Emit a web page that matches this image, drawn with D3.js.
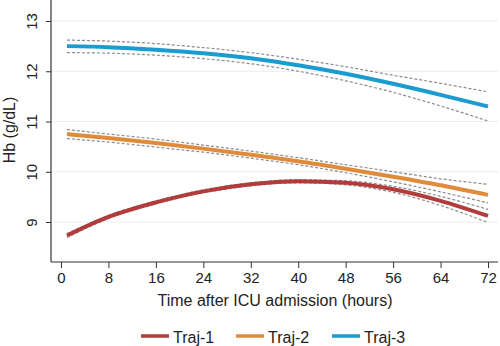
<!DOCTYPE html>
<html>
<head>
<meta charset="utf-8">
<script src="https://cdn.jsdelivr.net/npm/d3@7"></script>
<style>
  body { margin: 0; background: #fff; }
  text { font-family: "Liberation Sans", Arial, sans-serif; fill: #222; }
</style>
</head>
<body>
<script>
const WIDTH = 500;
const HEIGHT = 346;

// hours at which values were read
var hours = [1, 8, 16, 24, 32, 40, 48, 56, 64, 72];

var traj1 = [8.73, 9.10, 9.39, 9.61, 9.75, 9.81, 9.78, 9.65, 9.42, 9.12];
var traj1Hi = [8.77, 9.13, 9.42, 9.64, 9.78, 9.84, 9.82, 9.71, 9.51, 9.25];
var traj1Lo = [8.69, 9.07, 9.36, 9.58, 9.72, 9.78, 9.74, 9.59, 9.33, 8.99];

var traj2 = [10.75, 10.67, 10.57, 10.46, 10.34, 10.21, 10.06, 9.90, 9.73, 9.54];
var traj2Hi = [10.84, 10.75, 10.65, 10.53, 10.41, 10.28, 10.14, 10.00, 9.86, 9.75];
var traj2Lo = [10.66, 10.59, 10.49, 10.39, 10.27, 10.14, 9.98, 9.80, 9.60, 9.38];

var traj3 = [12.50, 12.48, 12.43, 12.36, 12.26, 12.12, 11.95, 11.75, 11.53, 11.30];
var traj3Hi = [12.62, 12.60, 12.55, 12.47, 12.37, 12.24, 12.09, 11.92, 11.76, 11.59];
var traj3Lo = [12.37, 12.36, 12.32, 12.25, 12.15, 12.00, 11.81, 11.58, 11.31, 11.01];

var seriesNames = ['Traj-1', 'Traj-2', 'Traj-3'];
var colors = ['#b23c3c', '#e08a3c', '#1b9bd0'];
var xTicks = [0, 8, 16, 24, 32, 40, 48, 56, 64, 72];
var yTicks = [9, 10, 11, 12, 13];

var series = [
    {name: seriesNames[0], mid: traj1, hi: traj1Hi, lo: traj1Lo, color: colors[0]},
    {name: seriesNames[1], mid: traj2, hi: traj2Hi, lo: traj2Lo, color: colors[1]},
    {name: seriesNames[2], mid: traj3, hi: traj3Hi, lo: traj3Lo, color: colors[2]}
];

var plotLeft = 51, plotRight = 498, plotTop = 0, plotBottom = 262;

var svg = d3.select('body').append('svg')
    .attr('width', WIDTH)
    .attr('height', HEIGHT);

var xScale = d3.scaleLinear()
    .domain([0, 72])
    .range([61, 488]);
var yScale = d3.scaleLinear()
    .domain([9, 13])
    .range([222, 21]);

// gridlines
svg.append('g').selectAll('line')
    .data(yTicks)
    .enter().append('line')
    .attr('x1', plotLeft)
    .attr('x2', plotRight)
    .attr('y1', function (d) { return yScale(d); })
    .attr('y2', function (d) { return yScale(d); })
    .attr('stroke', '#e6eef0')
    .attr('stroke-width', 1);

var line = function (vals) {
    return d3.line()
        .x(function (d, i) { return xScale(hours[i]); })
        .y(function (d) { return yScale(d); })
        .curve(d3.curveMonotoneX)(vals);
};

var plot = svg.append('g');
series.forEach(function (s) {
    [s.hi, s.lo].forEach(function (b) {
        plot.append('path')
            .attr('d', line(b))
            .attr('fill', 'none')
            .attr('stroke', '#8c8c8c')
            .attr('stroke-width', 1.2)
            .attr('stroke-dasharray', '3,2');
    });
});
series.forEach(function (s) {
    plot.append('path')
        .attr('d', line(s.mid))
        .attr('fill', 'none')
        .attr('stroke', s.color)
        .attr('stroke-width', 4);
});

// axes
var xAxis = d3.axisBottom(xScale).tickValues(xTicks).tickSize(6).tickSizeOuter(0);
var gx = svg.append('g')
    .attr('transform', 'translate(0,' + plotBottom + ')')
    .call(xAxis);
gx.select('.domain').remove();
gx.append('line')
    .attr('x1', plotLeft).attr('x2', plotRight)
    .attr('stroke', '#333').attr('stroke-width', 1.2);
gx.selectAll('.tick line').attr('stroke', '#333');
gx.selectAll('.tick text')
    .attr('font-size', 15)
    .attr('fill', '#222')
    .attr('dy', '0.8em');

var yAxis = d3.axisLeft(yScale).tickValues(yTicks).tickFormat(d3.format('d'))
    .tickSize(5).tickSizeOuter(0);
var gy = svg.append('g')
    .attr('transform', 'translate(' + plotLeft + ',0)')
    .call(yAxis);
gy.select('.domain').remove();
gy.append('line')
    .attr('y1', plotTop).attr('y2', plotBottom)
    .attr('stroke', '#333').attr('stroke-width', 1.2);
gy.selectAll('.tick line').attr('stroke', '#333');
gy.selectAll('.tick text')
    .attr('font-size', 15)
    .attr('fill', '#222')
    .attr('x', null)
    .attr('dy', null)
    .attr('text-anchor', 'middle')
    .attr('transform', 'translate(-14,0) rotate(-90)')
    .attr('y', 0);

svg.append('text')
    .attr('x', 275)
    .attr('y', 306)
    .attr('text-anchor', 'middle')
    .attr('font-size', 16)
    .text('Time after ICU admission (hours)');

svg.append('text')
    .attr('transform', 'translate(15,' + 130 + ') rotate(-90)')
    .attr('text-anchor', 'middle')
    .attr('font-size', 16)
    .text('Hb (g/dL)');

// legend
var legendX = [141, 236, 332];
var legend = svg.append('g').selectAll('g')
    .data(series)
    .enter().append('g')
    .attr('transform', function (d, i) { return 'translate(' + legendX[i] + ',336)'; });
legend.append('line')
    .attr('x1', 0).attr('x2', 28)
    .attr('stroke', function (d) { return d.color; })
    .attr('stroke-width', 3.5);
legend.append('text')
    .attr('x', 32)
    .attr('y', 6.5)
    .attr('font-size', 16)
    .text(function (d) { return d.name; });
</script>
</body>
</html>
